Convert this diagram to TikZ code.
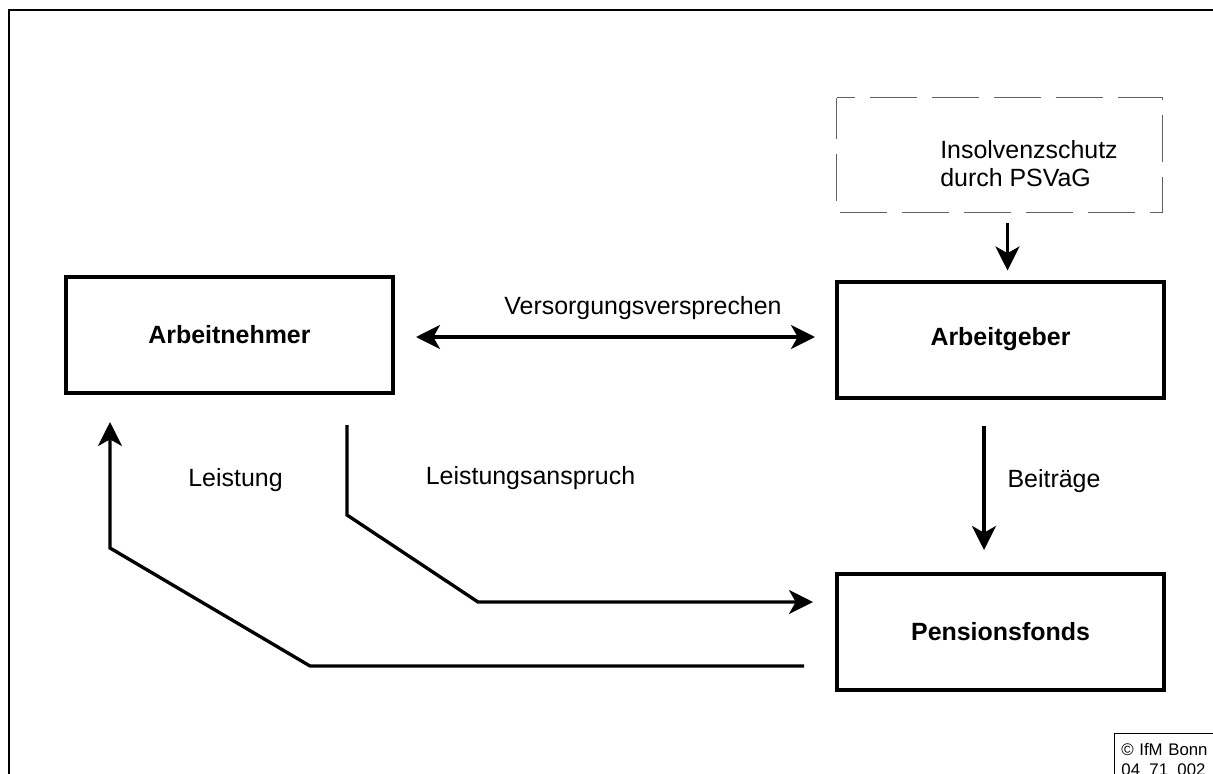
\documentclass[tikz,border=0pt]{standalone}
\usepackage{fontspec}
\setmainfont{Liberation Sans}
\usetikzlibrary{arrows.meta}
\begin{document}
\begin{tikzpicture}[x=0.75pt,y=-0.75pt,
  every node/.style={font=\fontsize{18.7}{21}\selectfont},
  mainbox/.style={draw, line width=3pt, minimum width=245.25pt, minimum height=87pt, inner sep=0pt, font=\fontsize{18.7}{21}\selectfont\bfseries},
  dashbox/.style={minimum width=243.75pt, minimum height=85.5pt, inner sep=0pt},
  dashline/.style={draw=black!62, line width=1.1pt, dash pattern=on 35.25pt off 11.25pt, dash phase=21.75pt},
  lbl/.style={inner sep=0pt},
  tipstyle/.tip={Stealth[length=18pt,width=18pt,inset=5pt]},
  arr/.style={line width=2.5pt, -tipstyle},
  darr/.style={line width=2.5pt, tipstyle-tipstyle}]
\useasboundingbox (0,0) rectangle (1213,774);
% outer frame
\draw[line width=1.5pt] (9,10) rectangle (1240,800);

% boxes
\node[mainbox] (an) at (229.5,335) {Arbeitnehmer};
\node[mainbox] (ag) at (1000.5,339.5) {Arbeitgeber};
\node[mainbox] (pf) at (1000.5,632) {Pensionsfonds};
\node[dashbox] (ins) at (999.5,155) {};
\draw[dashline] (ins.north west) -- (ins.north east) -- (ins.south east) -- (ins.south west) -- cycle;
\node[lbl, anchor=west, align=left] (instxt) at (940,164) {Insolvenzschutz\\durch PSVaG};

% labels
\node[lbl] (vv) at (643,308) {Versorgungsversprechen};
\node[lbl] (ls) at (235.5,480) {Leistung};
\node[lbl] (la) at (530.5,478) {Leistungsanspruch};
\node[lbl] (bt) at (1054,481) {Beiträge};

% helper coordinates
\coordinate (vy) at (0,337);
\coordinate (bx) at (984,0);
\coordinate (ix) at (1007.5,0);
\coordinate (la1) at (347,515);
\coordinate (la2) at (478,602);
\coordinate (ls1) at (310,666);
\coordinate (ls2) at (110,548);

% connectors
\draw[darr, shorten <=15.75pt, shorten >=15pt] (an.east |- vy) -- (ag.west |- vy);
\draw[arr, shorten <=8.25pt, shorten >=6.75pt] (ins.south -| ix) -- (ag.north -| ix);
\draw[arr, shorten <=19.5pt, shorten >=16.5pt] (ag.south -| bx) -- (pf.north -| bx);
\draw[arr, shorten <=22.5pt, shorten >=16.5pt] (an.south -| la1) -- (la1) -- (la2) -- (pf.west |- la2);
\draw[arr, shorten <=23.25pt, shorten >=20.25pt] (pf.west |- ls1) -- (ls1) -- (ls2) -- (an.south -| ls2);

% copyright box
\node[draw, line width=1.1pt, anchor=north west, align=left, inner xsep=5pt, inner ysep=7pt,
  font=\fontsize{12.6}{15}\selectfont, text width=72pt, text depth=20pt] (cp) at (1114,733) {© IfM Bonn\\04\_71\_002};
\end{tikzpicture}
\end{document}
